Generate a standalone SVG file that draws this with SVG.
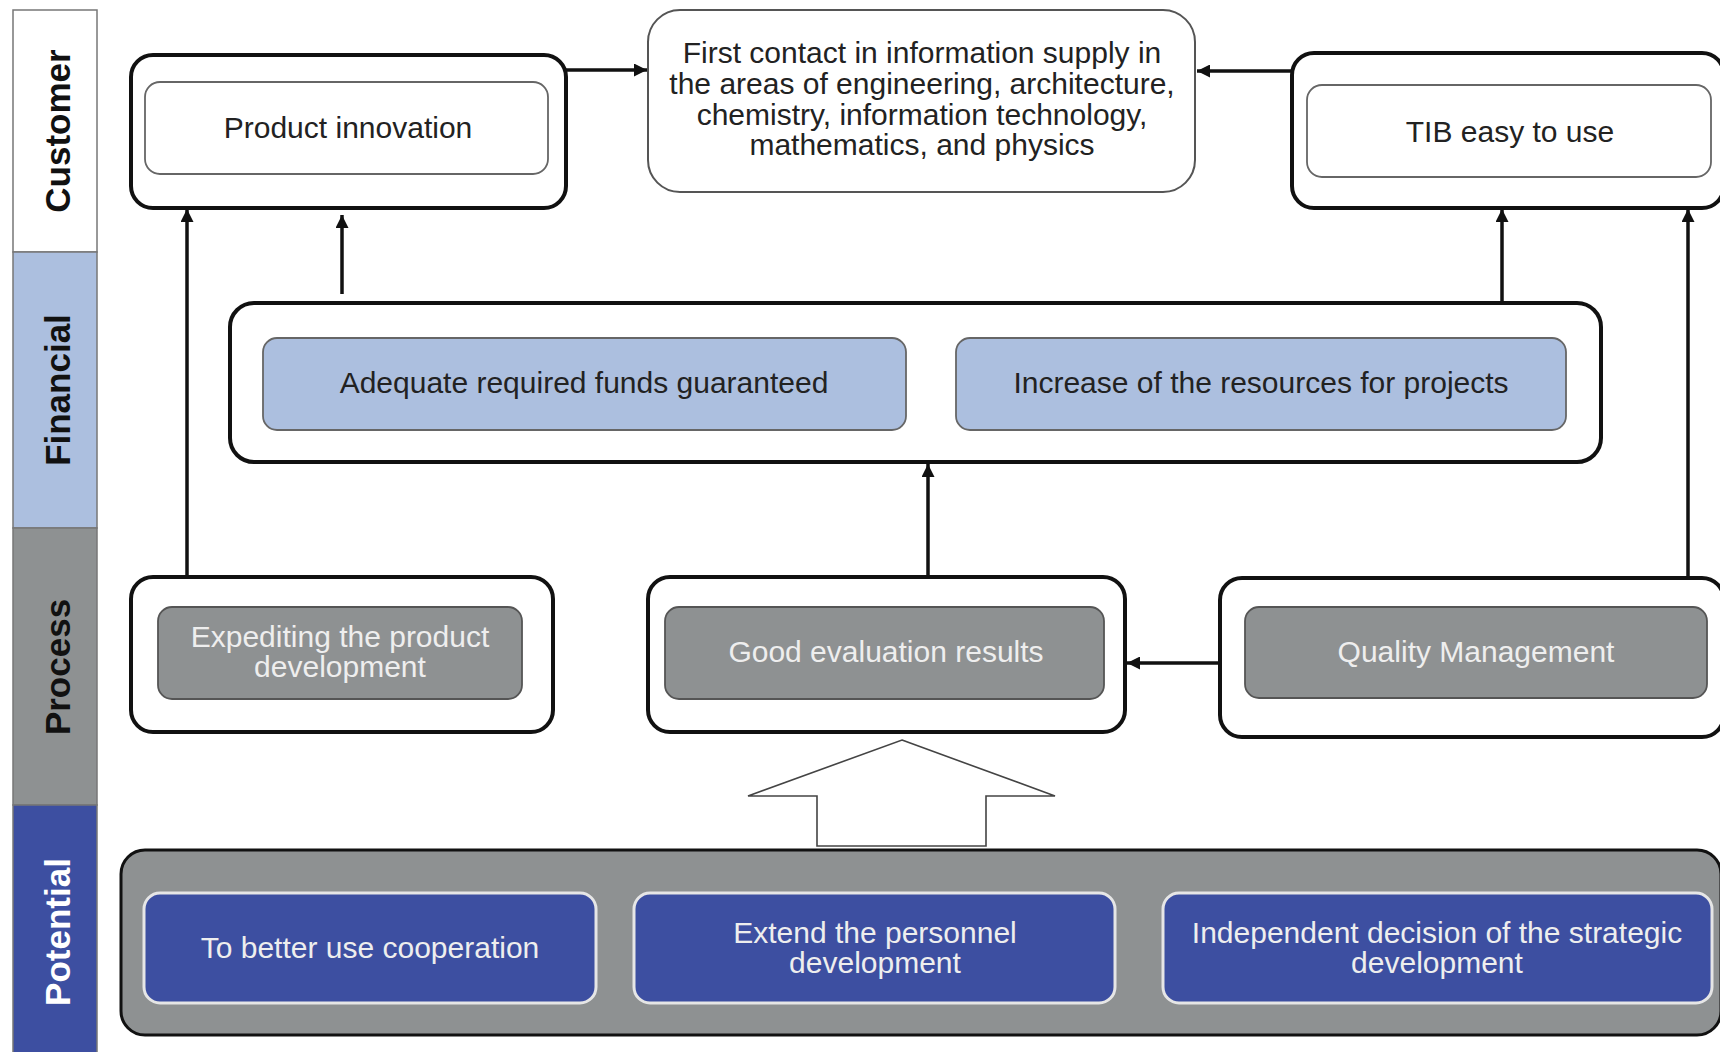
<svg xmlns="http://www.w3.org/2000/svg" width="1720" height="1052" viewBox="0 0 1720 1052">
<defs>
<style>
.band{stroke:#777;stroke-width:1.5}
.blabel{font-family:"Liberation Sans",Arial,sans-serif;font-weight:bold;font-size:35px;text-anchor:middle}
.outer{fill:#fff;stroke:#111;stroke-width:4}
.inW{fill:#fff;stroke:#666;stroke-width:1.8}
.inB{fill:#acbfdf;stroke:#666;stroke-width:1.8}
.inG{fill:#8e9192;stroke:#555;stroke-width:1.8}
.inP{fill:#3d4fa1;stroke:#e6e6e6;stroke-width:3}
.t{font-family:"Liberation Sans",Arial,sans-serif;font-size:30px;text-anchor:middle;fill:#222}
.tw{fill:#eeeeee}
.conn{stroke:#111;stroke-width:3.5;fill:none;marker-end:url(#ah)}
</style>
<marker id="ah" viewBox="0 0 10 10" markerUnits="userSpaceOnUse" markerWidth="15" markerHeight="13" refX="10" refY="5" orient="auto">
<path d="M0,0 L10,5 L0,10 z" fill="#111"/>
</marker>
</defs>
<rect width="1720" height="1052" fill="#fff"/>

<g id="bands">
<rect class="band" x="13" y="10" width="84" height="242" fill="#fff"/>
<rect class="band" x="13" y="252" width="84" height="276" fill="#acbfdf"/>
<rect class="band" x="13" y="528" width="84" height="277" fill="#8e9192"/>
<rect class="band" x="13" y="805" width="84" height="250" fill="#3d4fa1"/>
<text class="blabel" transform="translate(70,131) rotate(-90)" fill="#111">Customer</text>
<text class="blabel" transform="translate(70,390) rotate(-90)" fill="#111">Financial</text>
<text class="blabel" transform="translate(70,667) rotate(-90)" fill="#111">Process</text>
<text class="blabel" transform="translate(70,932) rotate(-90)" fill="#fff">Potential</text>
</g>

<g id="connectors">
<line class="conn" x1="562" y1="70" x2="647" y2="70"/>
<line class="conn" x1="1294" y1="71" x2="1197" y2="71"/>
<line class="conn" x1="187" y1="577" x2="187" y2="209"/>
<line class="conn" x1="342" y1="294" x2="342" y2="215"/>
<line class="conn" x1="1502" y1="303" x2="1502" y2="209"/>
<line class="conn" x1="1688" y1="580" x2="1688" y2="209"/>
<line class="conn" x1="928" y1="577" x2="928" y2="464"/>
<line class="conn" x1="1222" y1="663" x2="1127" y2="663"/>
<polygon points="902,740 1055,796 986,796 986,846 817,846 817,796 748,796" fill="#fff" stroke="#444" stroke-width="1.6"/>
</g>

<g id="first-contact">
<rect x="648" y="10" width="547" height="182" rx="32" fill="#fff" stroke="#555" stroke-width="2"/>
<text class="t" x="922" y="63">First contact in information supply in</text>
<text class="t" x="922" y="94">the areas of engineering, architecture,</text>
<text class="t" x="922" y="125">chemistry, information technology,</text>
<text class="t" x="922" y="155">mathematics, and physics</text>
</g>

<g id="product-innovation">
<rect class="outer" x="131" y="55" width="435" height="153" rx="22"/>
<rect class="inW" x="145" y="82" width="403" height="92" rx="15"/>
<text class="t" x="348" y="138">Product innovation</text>
</g>

<g id="tib-easy">
<rect class="outer" x="1292" y="53" width="432" height="155" rx="22"/>
<rect class="inW" x="1307" y="85" width="404" height="92" rx="15"/>
<text class="t" x="1510" y="142">TIB easy to use</text>
</g>

<g id="financial">
<rect class="outer" x="230" y="303" width="1371" height="159" rx="24"/>
<g id="adequate-funds">
<rect class="inB" x="263" y="338" width="643" height="92" rx="14"/>
<text class="t" x="584" y="393">Adequate required funds guaranteed</text>
</g>
<g id="increase-resources">
<rect class="inB" x="956" y="338" width="610" height="92" rx="14"/>
<text class="t" x="1261" y="393">Increase of the resources for projects</text>
</g>
</g>

<g id="expediting">
<rect class="outer" x="131" y="577" width="422" height="155" rx="22"/>
<rect class="inG" x="158" y="607" width="364" height="92" rx="14"/>
<text class="t tw" x="340" y="647">Expediting the product</text>
<text class="t tw" x="340" y="677">development</text>
</g>

<g id="good-evaluation">
<rect class="outer" x="648" y="577" width="477" height="155" rx="22"/>
<rect class="inG" x="665" y="607" width="439" height="92" rx="14"/>
<text class="t tw" x="886" y="662">Good evaluation results</text>
</g>

<g id="quality-management">
<rect class="outer" x="1220" y="578" width="504" height="159" rx="22"/>
<rect class="inG" x="1245" y="607" width="462" height="91" rx="14"/>
<text class="t tw" x="1476" y="662">Quality Management</text>
</g>

<g id="potential">
<rect x="121" y="850" width="1600" height="185" rx="24" fill="#8e9192" stroke="#111" stroke-width="3"/>
<g id="cooperation">
<rect class="inP" x="144" y="893" width="452" height="110" rx="16"/>
<text class="t tw" x="370" y="958">To better use cooperation</text>
</g>
<g id="personnel">
<rect class="inP" x="634" y="893" width="481" height="110" rx="16"/>
<text class="t tw" x="875" y="943">Extend the personnel</text>
<text class="t tw" x="875" y="973">development</text>
</g>
<g id="strategic">
<rect class="inP" x="1163" y="893" width="549" height="110" rx="16"/>
<text class="t tw" x="1437" y="943">Independent decision of the strategic</text>
<text class="t tw" x="1437" y="973">development</text>
</g>
</g>
</svg>
